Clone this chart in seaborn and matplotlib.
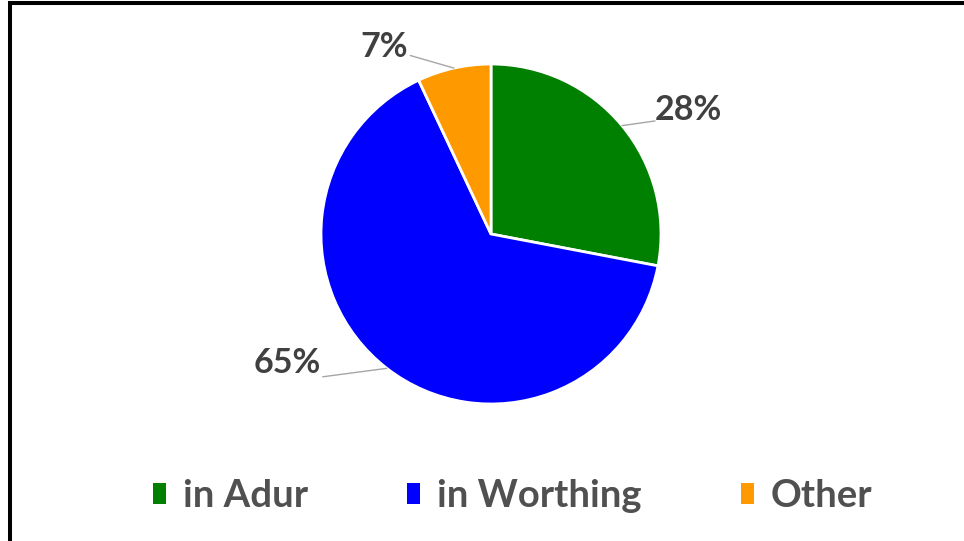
import matplotlib
matplotlib.use("Agg")
import matplotlib.pyplot as plt
import seaborn as sns
import numpy as np
from matplotlib.lines import Line2D
from matplotlib.patches import Rectangle

categories = ["in Adur", "in Worthing", "Other"]
shares = [28, 65, 7]
colors = ["#008000", "#0000FF", "#FF9900"]
labels = ["28%", "65%", "7%"]

sns.set_theme(style="white")
plt.rcParams["font.family"] = ["Lato", "DejaVu Sans"]

W, H = 964, 541
fig = plt.figure(figsize=(W / 100, H / 100), dpi=100)
fig.patch.set_facecolor("white")

# pie centre (491, 234) px, radius 170 px
cx, cy, r = 491, 234, 170
ax = fig.add_axes([(cx - r) / W, (H - cy - r) / H, 2 * r / W, 2 * r / H])

wedges, _ = ax.pie(shares, colors=colors, startangle=90, counterclock=False,
                   radius=1.0, wedgeprops=dict(edgecolor="white", linewidth=2))
ax.set_xlim(-1, 1)
ax.set_ylim(-1, 1)
ax.set_aspect("equal")
ax.axis("off")

# label placement: (text x, text y, ha, leader end x, leader end y)
label_pos = [
    (0.965, 0.73, "left", 0.965, 0.665),
    (-1.0, -0.76, "right", -0.99, -0.84),
    (-0.49, 1.10, "right", -0.475, 1.05),
]
txt_color = "#404040"
for w, lab, (tx, ty, ha, lx, ly) in zip(wedges, labels, label_pos):
    mid = np.deg2rad((w.theta1 + w.theta2) / 2)
    px, py = np.cos(mid), np.sin(mid)
    ax.plot([px, lx], [py, ly], color="#a6a6a6", lw=1.0, clip_on=False)
    ax.text(tx, ty, lab, ha=ha, va="center", fontsize=24.5, fontweight="bold",
            color=txt_color, clip_on=False)

handles = [Rectangle((0, 0), 1, 1, facecolor=c, edgecolor="none") for c in colors]
leg = fig.legend(handles, categories, loc="center", ncol=3,
                 bbox_to_anchor=(0.532, (H - 496) / H), frameon=False,
                 handlelength=0.33, handleheight=0.45, handletextpad=0.45,
                 columnspacing=2.6,
                 prop=dict(size=27.5, weight="bold"))
for t in leg.get_texts():
    t.set_color("#505050")

# outer frame lines (top and left)
fig.add_artist(Line2D([8 / W, 1], [1 - 3 / H, 1 - 3 / H], color="black", lw=2.9,
                      solid_capstyle="butt", transform=fig.transFigure))
fig.add_artist(Line2D([10 / W, 10 / W], [0, 1 - 1 / H], color="black", lw=2.9,
                      solid_capstyle="butt", transform=fig.transFigure))

fig.savefig("out.png", dpi=100, facecolor="white")
